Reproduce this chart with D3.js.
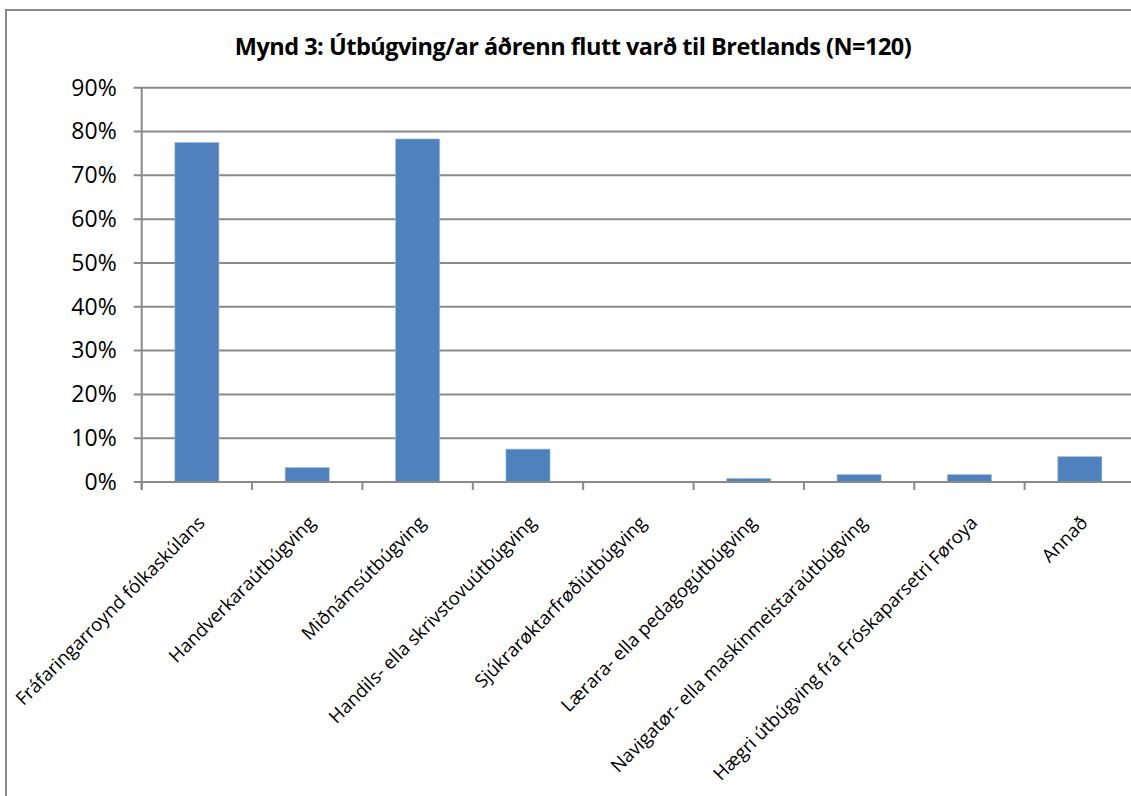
<!DOCTYPE html>
<html>
<head>
<meta charset="utf-8">
<script src="https://cdn.jsdelivr.net/npm/d3@7"></script>
<style>
  body { margin: 0; background: #fff; }
  svg { display: block; }
</style>
</head>
<body>
<svg id="chart" width="1131" height="796"></svg>
<script>
var titleText = "Mynd 3: Útbúgving/ar áðrenn flutt varð til Bretlands (N=120)";

var categories = [
  "Fráfaringarroynd fólkaskúlans",
  "Handverkaraútbúgving",
  "Miðnámsútbúgving",
  "Handils- ella skrivstovuútbúgving",
  "Sjúkrarøktarfrøðiútbúgving",
  "Lærara- ella pedagogútbúgving",
  "Navigatør- ella maskinmeistaraútbúgving",
  "Hægri útbúgving frá Fróskaparsetri Føroya",
  "Annað"
];
var values = [0.775, 0.033, 0.783, 0.075, 0, 0.008, 0.017, 0.017, 0.058];
var yTicks = [0, 0.1, 0.2, 0.3, 0.4, 0.5, 0.6, 0.7, 0.8, 0.9];

var svg = d3.select("#chart");
var gridColor = "#8a8a8a";

// outer chart frame (runs off the right and bottom edges)
svg.append("rect")
  .attr("x", 6).attr("y", 10)
  .attr("width", 1200).attr("height", 900)
  .attr("fill", "none")
  .attr("stroke", gridColor)
  .attr("stroke-width", 2);

var plotLeft = 141.7, plotRight = 1135, plotTop = 87.7, plotBottom = 482;

var x = d3.scaleBand()
  .domain(categories)
  .range([plotLeft, plotRight])
  .paddingInner(0.6)
  .paddingOuter(0.3);

var y = d3.scaleLinear()
  .domain([0, 0.9])
  .range([plotBottom, plotTop]);

// gridlines
svg.append("g")
  .selectAll("line")
  .data(yTicks)
  .join("line")
  .attr("x1", plotLeft - 8).attr("x2", plotRight)
  .attr("y1", function(d){ return y(d); })
  .attr("y2", function(d){ return y(d); })
  .attr("stroke", gridColor)
  .attr("stroke-width", 2);

// y labels
var yAxis = d3.axisLeft(y)
  .tickValues(yTicks)
  .tickFormat(d3.format(".0%"))
  .tickSize(0)
  .tickPadding(25);

svg.append("g")
  .attr("transform", "translate(" + plotLeft + ",0)")
  .call(yAxis)
  .call(function(g){ g.select(".domain").remove(); })
  .selectAll("text")
  .attr("font-family", "'Open Sans', sans-serif")
  .attr("font-size", 23)
  .attr("fill", "#000");

// bars
svg.append("g")
  .selectAll("rect")
  .data(values)
  .join("rect")
  .attr("x", function(d, i){ return x(categories[i]); })
  .attr("y", function(d){ return y(d); })
  .attr("width", x.bandwidth())
  .attr("height", function(d){ return plotBottom - y(d); })
  .attr("fill", "#4f81bd")
  .attr("stroke", "#a7c0de")
  .attr("stroke-width", 1)
  .attr("stroke-opacity", function(d){ return d > 0 ? 0.6 : 0; });

// y axis line
svg.append("line")
  .attr("x1", plotLeft).attr("x2", plotLeft)
  .attr("y1", plotTop).attr("y2", plotBottom + 8)
  .attr("stroke", gridColor)
  .attr("stroke-width", 2);

// x axis line and ticks at category boundaries
svg.append("line")
  .attr("x1", plotLeft).attr("x2", plotRight)
  .attr("y1", plotBottom).attr("y2", plotBottom)
  .attr("stroke", gridColor)
  .attr("stroke-width", 2);

var step = x.step();
svg.append("g")
  .selectAll("line")
  .data(categories)
  .join("line")
  .attr("x1", function(d, i){ return plotLeft + i * step; })
  .attr("x2", function(d, i){ return plotLeft + i * step; })
  .attr("y1", plotBottom).attr("y2", plotBottom + 8)
  .attr("stroke", gridColor)
  .attr("stroke-width", 2);

// category labels, rotated
svg.append("g")
  .selectAll("text")
  .data(categories)
  .join("text")
  .attr("transform", function(d){
    var cx = x(d) + x.bandwidth() / 2;
    return "translate(" + (cx + 9) + "," + (plotBottom + 42) + ") rotate(-45)";
  })
  .attr("text-anchor", "end")
  .attr("font-family", "'Open Sans', sans-serif")
  .attr("font-size", 18.5)
  .attr("fill", "#000")
  .text(function(d){ return d; });

// title
svg.append("text")
  .attr("x", 573).attr("y", 55)
  .attr("text-anchor", "middle")
  .attr("font-family", "'Open Sans', sans-serif")
  .attr("font-weight", "bold")
  .attr("font-size", 23.5)
  .attr("letter-spacing", -0.5)
  .attr("fill", "#000")
  .text(titleText);
</script>
</body>
</html>
